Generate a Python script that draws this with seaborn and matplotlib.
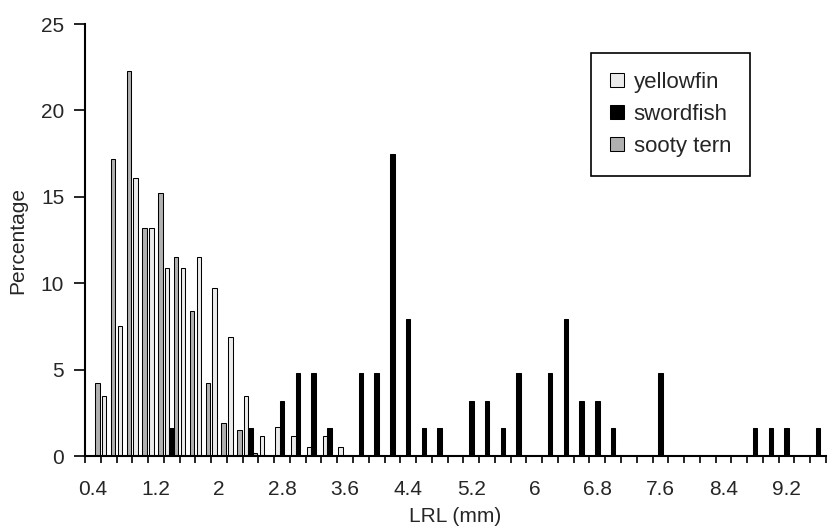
import pandas as pd
import seaborn as sns
import matplotlib.pyplot as plt

# LRL classes (mm), 0.2 mm steps
lrl = [f"{0.4 + 0.2 * i:.1f}".rstrip("0").rstrip(".") for i in range(47)]

# percentage per class
yellowfin = [0, 3.5, 7.5, 16.1, 13.2, 10.9, 10.9, 11.5, 9.7, 6.9,
             3.5, 1.15, 1.7, 1.15, 0.55, 1.15, 0.55, 0, 0, 0,
             0, 0, 0, 0, 0, 0, 0, 0, 0, 0,
             0, 0, 0, 0, 0, 0, 0, 0, 0, 0,
             0, 0, 0, 0, 0, 0, 0]
swordfish = [0, 0, 0, 0, 0, 1.6, 0, 0, 0, 0,
             1.6, 0, 3.2, 4.8, 4.8, 1.6, 0, 4.8, 4.8, 17.5,
             7.9, 1.6, 1.6, 0, 3.2, 3.2, 1.6, 4.8, 0, 4.8,
             7.9, 3.2, 3.2, 1.6, 0, 0, 4.8, 0, 0, 0,
             0, 0, 1.6, 1.6, 1.6, 0, 1.6]
sooty_tern = [4.2, 17.2, 22.3, 13.2, 15.2, 11.5, 8.4, 4.2, 1.9, 1.5,
              0.2, 0, 0, 0, 0, 0, 0, 0, 0, 0,
              0, 0, 0, 0, 0, 0, 0, 0, 0, 0,
              0, 0, 0, 0, 0, 0, 0, 0, 0, 0,
              0, 0, 0, 0, 0, 0, 0]

species = ["yellowfin", "swordfish", "sooty tern"]
colors = ["#ebebeb", "#000000", "#b0b0b0"]

df = pd.DataFrame({
    "LRL": lrl * 3,
    "pct": yellowfin + swordfish + sooty_tern,
    "species": [s for s in species for _ in lrl],
})

sns.set_style("ticks")
plt.rcParams["font.family"] = ["Liberation Sans", "DejaVu Sans"]

fig = plt.figure(figsize=(8.36, 5.30), dpi=100)
ax = fig.add_axes([0.1017, 0.1396, 0.8863, 0.8151])

sns.barplot(data=df, x="LRL", y="pct", hue="species", order=lrl,
            hue_order=species, palette=colors, width=0.856,
            edgecolor="black", linewidth=0.75, ax=ax)

ax.set_xlim(-0.5, len(lrl) - 0.5)
ax.set_ylim(0, 25)
ax.set_yticks(range(0, 26, 5))

# labels every 4th class, tick marks on class boundaries
ax.set_xticks(range(0, len(lrl), 4))
ax.set_xticklabels(lrl[::4])
ax.set_xticks([i - 0.5 for i in range(len(lrl) + 1)], minor=True)
ax.tick_params(axis="x", which="major", length=0, pad=17, labelsize=15)
ax.tick_params(axis="x", which="minor", length=5, width=1.2, direction="out", color="black")
ax.tick_params(axis="y", length=8, width=1.2, pad=7, labelsize=15, color="black")

ax.set_xlabel("LRL (mm)", fontsize=15, labelpad=6)
ax.set_ylabel("Percentage", fontsize=15, labelpad=10)

sns.despine(ax=ax)
for sp in ["left", "bottom"]:
    ax.spines[sp].set_linewidth(1.5)
    ax.spines[sp].set_color("black")

handles, labels = ax.get_legend_handles_labels()
leg = ax.legend(handles, labels, loc="upper left", bbox_to_anchor=(0.683, 0.933),
                fontsize=16, frameon=True, fancybox=False, framealpha=1,
                handlelength=0.62, handleheight=0.62, handletextpad=0.45,
                labelspacing=0.5, borderpad=0.85, borderaxespad=0)
leg.get_frame().set_edgecolor("black")
leg.get_frame().set_linewidth(1.2)

fig.savefig("out.png", dpi=100)
